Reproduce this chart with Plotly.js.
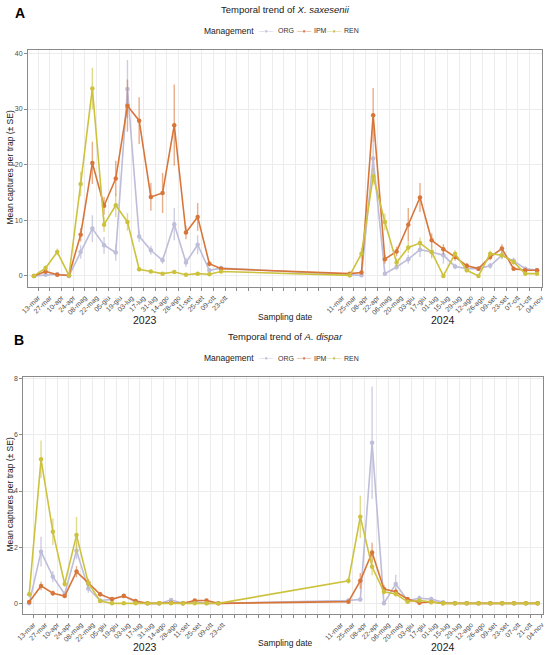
<!DOCTYPE html>
<html>
<head>
<meta charset="utf-8">
<script src="https://cdn.plot.ly/plotly-3.0.1.min.js"></script>
<style>html,body{margin:0;padding:0;background:#fff;}#chart{width:550px;height:655px;}</style>
</head>
<body>
<div id="chart"></div>
<script>
// ---- Data ----
const sampleDates = ['2023-03-08','2023-03-22','2023-04-05','2023-04-19','2023-05-03','2023-05-17','2023-05-31','2023-06-14','2023-06-28','2023-07-12','2023-07-26','2023-08-09','2023-08-23','2023-09-06','2023-09-20','2023-10-04','2023-10-18',
  '2024-03-20','2024-04-03','2024-04-17','2024-05-01','2024-05-15','2024-05-29','2024-06-12','2024-06-26','2024-07-10','2024-07-24','2024-08-07','2024-08-21','2024-09-04','2024-09-18','2024-10-02','2024-10-16','2024-10-30'];

const tickDates = ['2023-03-13','2023-03-27','2023-04-10','2023-04-24','2023-05-08','2023-05-22','2023-06-05','2023-06-19','2023-07-03','2023-07-17','2023-07-31','2023-08-14','2023-08-28','2023-09-11','2023-09-25','2023-10-09','2023-10-23',
  '2023-11-06','2023-11-20','2023-12-04','2023-12-18','2024-01-01','2024-01-15','2024-01-29','2024-02-12','2024-02-26',
  '2024-03-11','2024-03-25','2024-04-08','2024-04-22','2024-05-06','2024-05-20','2024-06-03','2024-06-17','2024-07-01','2024-07-15','2024-07-29','2024-08-12','2024-08-26','2024-09-09','2024-09-23','2024-10-07','2024-10-21','2024-11-04'];
const tickLabels = ['13-mar','27-mar','10-apr','24-apr','08-mag','22-mag','05-giu','19-giu','03-lug','17-lug','31-lug','14-ago','28-ago','11-set','25-set','09-ott','23-ott',
  '','','','','','','','','',
  '11-mar','25-mar','08-apr','22-apr','06-mag','20-mag','03-giu','17-giu','01-lug','15-lug','29-lug','12-ago','26-ago','09-set','23-set','07-ott','21-ott','04-nov'];

const groups = ['ORG','IPM','REN'];

// Panel A: X. saxesenii (mean, SE)
const saxORG = [0,0.2,0.3,0,4.3,8.5,5.5,4.2,33.6,7.1,4.6,2.8,9.3,2.4,5.6,1.0,1.4,
  0.1,0.1,21.1,0.4,1.6,3.0,4.7,4.3,3.7,1.7,1.3,1.3,1.8,3.7,2.7,1.3,1.0];
const saxORGse = [0.1,0.2,0.2,0.1,1.2,2.4,1.5,1.5,5.2,1.0,0.8,0.6,2.9,0.8,1.7,0.4,0.4,
  0.1,0.1,2.8,0.3,0.6,0.8,1.3,0.9,1.5,0.5,0.4,0.4,0.5,0.7,0.6,0.4,0.3];
const saxIPM = [0,0.8,0.2,0.1,7.4,20.3,12.6,17.5,30.6,27.9,14.2,14.9,27.1,7.8,10.6,2.2,1.3,
  0.4,0.6,28.9,3.0,4.4,9.2,14.1,6.4,4.8,3.4,1.8,1.3,3.4,4.9,1.3,1.0,1.0];
const saxIPMse = [0.1,0.4,0.1,0.1,1.2,3.8,1.6,3.2,4.7,4.2,2.5,3.6,7.3,1.2,2.5,0.5,0.3,
  0.2,0.3,4.9,0.8,0.9,3.0,2.6,1.2,0.9,0.7,0.5,0.4,0.6,0.8,0.4,0.3,0.3];
const saxREN = [0,1.4,4.3,0.1,16.5,33.7,9.2,12.7,9.7,1.2,0.8,0.4,0.7,0.2,0.4,0.3,0.8,
  0.1,4.0,17.9,9.7,2.4,5.1,5.9,4.3,0,4.0,1.0,0,4.0,3.7,2.5,0.4,0.4];
const saxRENse = [0.1,0.5,0.6,0.1,2.2,3.7,1.3,2.1,1.6,0.4,0.3,0.2,0.3,0.1,0.2,0.1,0.3,
  0.1,1.0,1.5,1.5,0.8,1.0,1.0,1.2,0.1,0.6,0.4,0.1,0.5,0.6,0.5,0.2,0.2];

// Panel B: A. dispar (mean, SE)
const disORG = [0,1.84,0.95,0.33,1.87,0.53,0.1,0.14,0.27,0.04,0,0,0.12,0,0.06,0,0,
  0.1,0.14,5.72,0,0.69,0.1,0.18,0.15,0.04,0,0,0,0,0,0,0,0];
const disORGse = [0,0.53,0.2,0.08,0.3,0.15,0.05,0.05,0.08,0.03,0,0,0.06,0,0.04,0,0,
  0.05,0.08,2.0,0,0.33,0.06,0.1,0.08,0.03,0,0,0,0,0,0,0,0];
const disIPM = [0.05,0.62,0.36,0.26,1.13,0.73,0.32,0.15,0.26,0.08,0,0,0.02,0,0.1,0.1,0,
  0.06,0.8,1.81,0.51,0.41,0.15,0.02,0.05,0,0,0,0,0,0,0,0,0];
const disIPMse = [0.03,0.15,0.1,0.05,0.2,0.12,0.08,0.05,0.06,0.04,0,0,0.02,0,0.05,0.05,0,
  0.03,0.28,0.35,0.15,0.12,0.06,0.02,0.03,0,0,0,0,0,0,0,0,0];
const disREN = [0.32,5.13,2.55,0.69,2.43,0.73,0.08,0,0,0,0,0,0,0,0,0,0,
  0.8,3.08,1.3,0.41,0.33,0.06,0.1,0.04,0,0,0,0,0,0,0,0,0];
const disRENse = [0.1,0.67,0.47,0.1,0.64,0.15,0.04,0,0,0,0,0,0,0,0,0,0,
  0.1,0.75,0.3,0.1,0.1,0.03,0.05,0.02,0,0,0,0,0,0,0,0,0];

// ---- Styles ----
const colors = {ORG:'#bebdda', IPM:'#d8763a', REN:'#cdc23e'};
const errColors = {ORG:'rgba(190,189,218,0.75)', IPM:'rgba(216,118,58,0.6)', REN:'rgba(205,194,62,0.6)'};
const FONT = 'Liberation Sans, Arial, sans-serif';
const H = 655, W = 550;
const py = v => 1 - v / H;
const px = v => v / W;

function mk(name, y, se, xa, ya) {
  return {
    type:'scatter', mode:'lines+markers', name:name,
    x: sampleDates, y: y,
    xaxis: xa, yaxis: ya, showlegend: false,
    line:{color:colors[name], width:1.6},
    marker:{color:colors[name], size:4.5},
    error_y:{type:'data', array: se, visible:true, width:0, thickness:1.4, color: errColors[name]}
  };
}

const traces = [
  mk('ORG', saxORG, saxORGse, 'x', 'y'),
  mk('IPM', saxIPM, saxIPMse, 'x', 'y'),
  mk('REN', saxREN, saxRENse, 'x', 'y'),
  mk('ORG', disORG, disORGse, 'x2', 'y2'),
  mk('IPM', disIPM, disIPMse, 'x2', 'y2'),
  mk('REN', disREN, disRENse, 'x2', 'y2')
];

const xRange = ['2023-03-01', '2024-11-05'];
function xax(domain, anchor) {
  return {
    domain: domain, anchor: anchor, type:'date', range: xRange,
    tickmode:'array', tickvals: tickDates, ticktext: tickLabels, tickangle: -45,
    tickfont:{size:7, color:'#4d4d4d', family:FONT},
    showgrid:true, gridcolor:'#ececec', gridwidth:1,
    showline:true, linecolor:'#8a8a8a', linewidth:1, mirror:true,
    ticks:'outside', ticklen:3, tickcolor:'#8a8a8a', zeroline:false
  };
}
function yax(domain, anchor, range, vals) {
  return {
    domain: domain, anchor: anchor, range: range,
    tickmode:'array', tickvals: vals, ticktext: vals.map(String),
    tickfont:{size:7, color:'#4d4d4d', family:FONT},
    showgrid:true, gridcolor:'#ececec', gridwidth:1,
    showline:true, linecolor:'#8a8a8a', linewidth:1, mirror:true,
    ticks:'outside', ticklen:3, tickcolor:'#8a8a8a', zeroline:false
  };
}

function ann(text, x, y, size, opts) {
  return Object.assign({text:text, x:px(x), y:py(y), xref:'paper', yref:'paper', showarrow:false,
    xanchor:'center', yanchor:'middle', font:{size:size, color:'#1a1a1a', family:FONT}}, opts||{});
}

// Legend built from the group names and colours
const legendKeyX = [266, 304, 334.5];
const legendLabelX = [276, 312, 342];
function legendAnns(yc) {
  const out = [ann('Management', 256, yc, 8.5, {xanchor:'right'})];
  groups.forEach((g, i) => {
    out.push(ann('—●—', legendKeyX[i], yc, 5.5, {font:{size:5.5, color:colors[g], family:FONT}}));
    out.push(ann(g, legendLabelX[i], yc, 7, {xanchor:'left', font:{size:7, color:'#333', family:FONT}}));
  });
  return out;
}

const layout = {
  width: W, height: H, margin:{l:0, r:0, t:0, b:0},
  paper_bgcolor:'#fff', plot_bgcolor:'#fff',
  font:{family:FONT},
  showlegend:false,
  xaxis: xax([px(28), px(542)], 'y'),
  yaxis: yax([py(287), py(49.5)], 'x', [-2.0, 40.7], [0,10,20,30,40]),
  xaxis2: xax([px(23.3), px(542.7)], 'y2'),
  yaxis2: yax([py(614), py(377)], 'x2', [-0.38, 8.06], [0,2,4,6,8]),
  annotations: [
    ann('<b>A</b>', 20, 13, 14, {font:{size:14, color:'#000', family:FONT}}),
    ann('Temporal trend of <i>X. saxesenii</i>', 285, 9.5, 9.5),
    ann('Mean captures per trap (± SE)', 9.5, 168, 8.5, {textangle:-90}),
    ann('Sampling date', 285, 317, 8.5),
    ann('2023', 145, 320, 10.5),
    ann('2024', 443, 320, 10.5),
    ann('<b>B</b>', 19, 340, 14, {font:{size:14, color:'#000', family:FONT}}),
    ann('Temporal trend of <i>A. dispar</i>', 285, 336.5, 9.5),
    ann('Mean captures per trap (± SE)', 9.5, 495, 8.5, {textangle:-90}),
    ann('Sampling date', 285, 643, 8.5),
    ann('2023', 145, 647, 10.5),
    ann('2024', 443, 647, 10.5)
  ].concat(legendAnns(30.7)).concat(legendAnns(358))
};

Plotly.newPlot('chart', traces, layout, {displayModeBar:false, staticPlot:true});
</script>
</body>
</html>
